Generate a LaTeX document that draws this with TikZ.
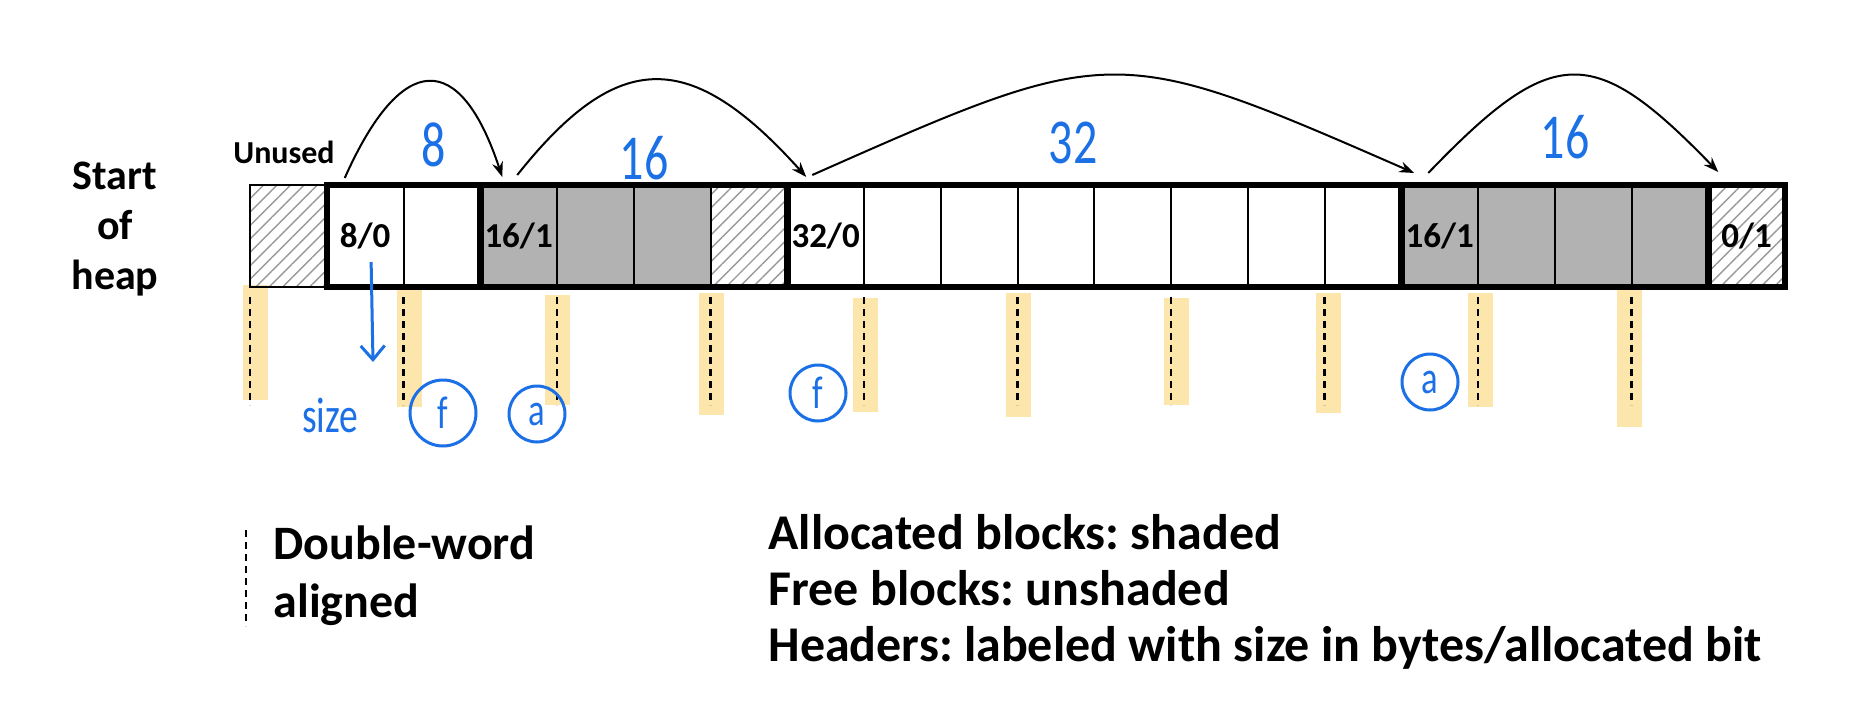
\documentclass[tikz,border=0pt]{standalone}
\usepackage{fontspec}
\setmainfont{Carlito}
\newfontfamily\handfont[FakeStretch=0.75]{Carlito}
\usetikzlibrary{positioning,arrows.meta,patterns.meta}
\frenchspacing

\definecolor{inkblue}{RGB}{28,112,230}
\definecolor{hilitecolor}{RGB}{253,230,172}

\tikzset{
    cell/.style={
        rectangle,
        draw,
        line width=2pt,
        minimum width=76.75pt,
        minimum height=102pt,
        inner sep=0pt,
        outer sep=0pt,
        font=\fontsize{35}{40}\selectfont\bfseries
    },
    freecell/.style={cell, fill=white},
    alloccell/.style={cell, fill=black!30},
    padcell/.style={cell,
        pattern={Lines[angle=45,distance=9.5pt,line width=1.4pt]},
        pattern color=black!40},
    blockframe/.style={line width=6.5pt},
    link/.style={line width=2pt, -{Stealth[length=15pt,width=11pt]}},
    dword/.style={line width=2.4pt, dash pattern=on 7pt off 5pt},
    hilite/.style={line width=25pt, hilitecolor},
    ink/.style={text=inkblue, font=\fontsize{64}{64}\handfont},
    ring/.style={circle, draw=inkblue, line width=3pt, inner sep=0pt,
        text=inkblue, font=\fontsize{46}{46}\handfont}
}

\begin{document}
\begin{tikzpicture}[x=1pt, y=-1pt, node distance=0pt]

    \fill[white] (0,0) rectangle (1854,704);
    \useasboundingbox (0,0) rectangle (1854,704);

    % marker strokes under the alignment lines
    \foreach \hx/\ht/\hb in {255/285/400, 409/290/407, 557/295/405,
            711/293/415, 865/298/412, 1018/293/417, 1176/298/405,
            1328/293/413, 1480/293/407, 1629/290/427}
        \draw[hilite] (\hx,\ht) -- (\hx,\hb);

    % the heap
    \node[padcell] (c0) at (288.375, 236) {};
    \node[freecell, right=of c0] (c1) {8/0};
    \node[freecell, right=of c1] (c2) {};
    \node[alloccell, right=of c2] (c3) {16/1};
    \node[alloccell, right=of c3] (c4) {};
    \node[alloccell, right=of c4] (c5) {};
    \node[padcell, right=of c5] (c6) {};
    \node[freecell, right=of c6] (c7) {32/0};
    \node[freecell, right=of c7] (c8) {};
    \node[freecell, right=of c8] (c9) {};
    \node[freecell, right=of c9] (c10) {};
    \node[freecell, right=of c10] (c11) {};
    \node[freecell, right=of c11] (c12) {};
    \node[freecell, right=of c12] (c13) {};
    \node[freecell, right=of c13] (c14) {};
    \node[alloccell, right=of c14] (c15) {16/1};
    \node[alloccell, right=of c15] (c16) {};
    \node[alloccell, right=of c16] (c17) {};
    \node[alloccell, right=of c17] (c18) {};
    \node[padcell, right=of c18] (c19) {0/1};

    \draw[blockframe] (c1.north west) rectangle (c2.south east);
    \draw[blockframe] (c3.north west) rectangle (c6.south east);
    \draw[blockframe] (c7.north west) rectangle (c14.south east);
    \draw[blockframe] (c15.north west) rectangle (c18.south east);
    \draw[blockframe] (c19.north west) rectangle (c19.south east);

    \foreach \k in {0,2,...,18}
        \draw[dword] ([yshift=-10pt]c\k.south west) -- ++(0,108);

    \node[font=\fontsize{42}{50}\selectfont\bfseries, align=center]
        (start) at (115, 229) {Start\\of\\heap};
    \node[font=\fontsize{32}{36}\selectfont\bfseries]
        (unused) at (284, 152) {Unused};

    % implicit list
    \draw[link] ([xshift=18pt,yshift=7pt]c1.north west)
        .. controls +(57,-128) and +(-42,-127) .. ([xshift=22pt,yshift=8pt]c3.north west);
    \draw[link] ([xshift=37pt,yshift=10pt]c3.north west)
        .. controls +(101,-127) and +(-116,-129) .. ([xshift=19pt,yshift=8pt]c7.north west);
    \draw[link] ([xshift=25pt,yshift=10pt]c7.north west)
        .. controls +(300,-133) and +(-300,-131) .. ([xshift=13pt,yshift=12pt]c15.north west);
    \draw[link] ([xshift=27pt,yshift=12pt]c15.north west)
        .. controls +(125,-130) and +(-125,-129) .. ([xshift=10pt,yshift=13pt]c19.north west);

    % hand notes
    \node[ink] (w8) at (434, 145) {8};
    \node[ink] (w16a) at (644, 158) {16};
    \node[ink] (w32) at (1073, 143) {32};
    \node[ink] (w16b) at (1565, 137) {16};

    \node[ink, font=\fontsize{50}{50}\handfont] (wsize) at (330, 415) {size};
    \coordinate (sizetip) at (373, 362);
    \draw[inkblue, line width=3pt, -{Straight Barb[length=14pt,width=24pt]}]
        ([xshift=6pt,yshift=-26pt]c1.center) -- (sizetip);

    \node[ring, minimum size=66pt] (f1) at (443, 413) {f};
    \node[ring, minimum size=56pt] (a1) at (537, 414) {a};
    \node[ring, minimum size=56pt] (f2) at (818, 393) {f};
    \node[ring, minimum size=56pt] (a2) at (1430, 382) {a};

    % legend
    \draw[dword, line width=1.8pt] (246, 530) -- (246, 626);
    \node[anchor=west, align=left, font=\fontsize{48}{58}\selectfont\bfseries]
        (dwlabel) at (270, 576) {Double-word\\aligned};
    \node[anchor=west, align=left, font=\fontsize{50}{56}\selectfont\bfseries]
        (key) at (765, 592) {Allocated blocks: shaded\\Free blocks: unshaded\\Headers: labeled with size in bytes/allocated bit};

\end{tikzpicture}
\end{document}
